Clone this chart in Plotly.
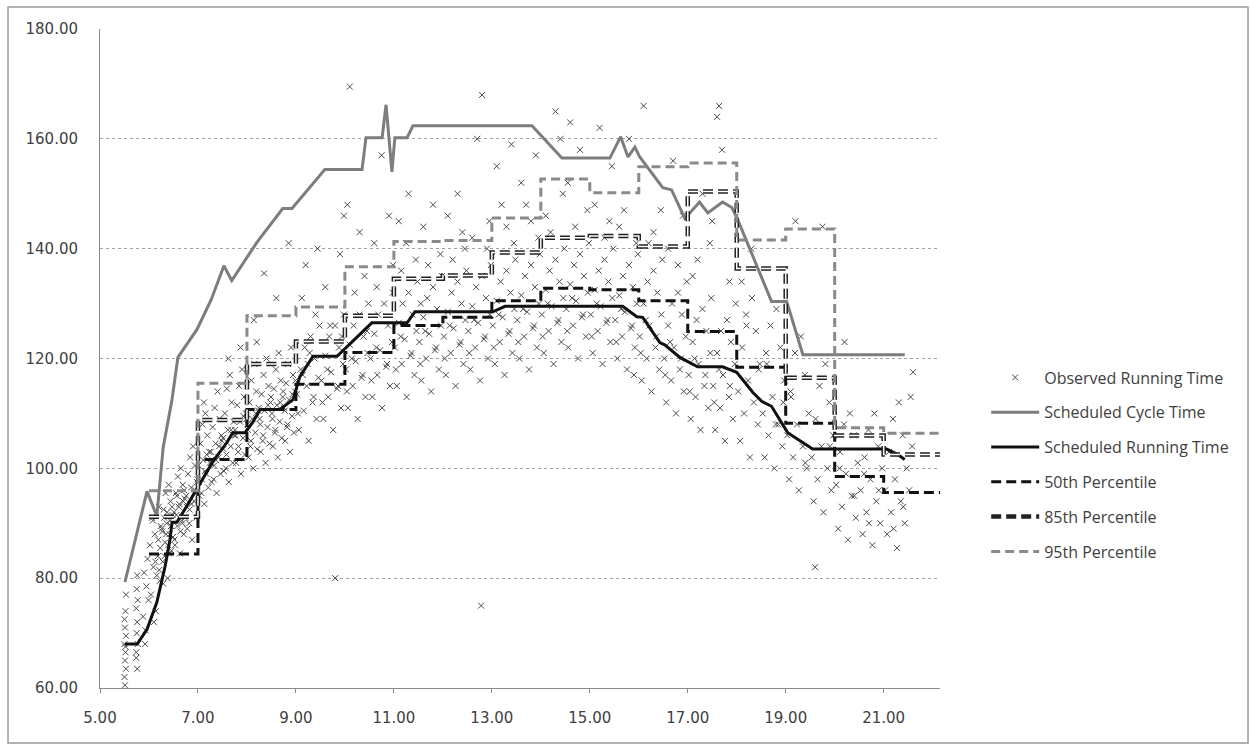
import plotly.graph_objects as go

# ---------------- data ----------------
# Scheduled cycle time (hours, minutes)
cycle_time = [5.51, 5.96, 6.16, 6.29, 6.47, 6.59, 6.98, 7.27, 7.53, 7.69, 8.20, 8.73, 8.92,
              9.59, 10.35, 10.43, 10.76, 10.84, 10.96, 11.02, 11.27, 11.39, 13.82, 14.43,
              15.41, 15.63, 15.78, 15.92, 16.02, 16.49, 16.67, 16.94, 17.24, 17.41, 17.71,
              17.90, 18.02, 18.71, 19.02, 19.35, 21.43]
cycle_min = [79.3, 95.8, 91.3, 103.8, 112.5, 120.2, 125.3, 130.7, 136.9, 134.2, 141.1, 147.3, 147.3,
             154.4, 154.4, 160.2, 160.2, 166.2, 154.0, 160.2, 160.2, 162.4, 162.4, 156.5,
             156.5, 160.4, 156.7, 158.5, 156.7, 151.1, 150.7, 145.5, 148.5, 146.5, 148.5,
             147.5, 145.3, 130.4, 130.4, 120.7, 120.7]

# Scheduled running time
run_time = [5.51, 5.76, 5.96, 6.16, 6.33, 6.43, 6.47, 6.57, 6.73, 6.98, 7.31, 7.59, 7.71, 7.96,
            8.12, 8.27, 8.67, 8.94, 9.08, 9.35, 9.84, 10.55, 11.27, 11.43, 13.02, 13.27,
            15.67, 15.96, 16.08, 16.43, 16.53, 16.84, 17.20, 17.71, 18.00, 18.33, 18.51,
            18.71, 19.04, 19.55, 21.06, 21.29, 21.43]
run_min = [68.0, 68.0, 70.7, 75.6, 82.2, 87.1, 90.2, 90.2, 92.5, 96.2, 101.3, 104.7, 106.5, 106.5,
           108.4, 110.7, 110.7, 112.5, 116.7, 120.4, 120.4, 126.5, 126.5, 128.5, 128.5, 129.5,
           129.5, 127.6, 127.5, 122.9, 122.5, 120.2, 118.5, 118.5, 117.5, 113.8, 112.2,
           111.3, 106.5, 103.5, 103.5, 102.5, 101.6]

# Hourly percentile steps (bin start hours, last value = end of last bin)
pct_hours = [6, 7, 8, 9, 10, 11, 12, 13, 14, 15, 16, 17, 18, 19, 20, 21, 22.15]
p50 = [84.4, 101.6, 110.7, 115.3, 121.1, 126.0, 127.5, 130.5, 132.8, 132.5, 130.5, 124.9,
       118.4, 108.2, 98.5, 95.6]
p85 = [91.2, 108.8, 119.0, 123.1, 127.8, 134.5, 135.1, 139.3, 142.0, 142.3, 140.4, 150.4,
       136.4, 116.5, 106.0, 102.5]
p95 = [95.9, 115.5, 127.8, 129.4, 136.7, 141.3, 141.5, 145.6, 152.7, 150.2, 154.9, 155.6,
       141.6, 143.6, 107.4, 106.4]

# Observed running times (hour, minutes) – estimated from the scatter
observed = [
    (5.50, 62.0), (5.53, 63.5), (5.51, 65.0), (5.52, 66.5), (5.50, 68.0), (5.53, 69.5),
    (5.51, 71.0), (5.50, 72.5), (5.52, 74.0), (5.53, 77.0), (5.51, 60.5), (5.52, 67.5),
    (5.76, 63.5), (5.74, 65.5), (5.77, 68.0), (5.75, 70.0), (5.76, 72.0), (5.74, 74.5),
    (5.77, 76.0), (5.75, 78.0), (5.76, 80.5), (5.74, 66.5),
    (5.93, 70.5), (5.88, 73.0), (5.99, 76.0), (5.95, 78.5), (5.90, 81.0), (5.97, 83.5), (5.92, 68.0),
    (6.14, 74.0), (6.04, 77.0), (6.22, 79.5), (6.09, 82.0), (6.18, 84.0), (6.02, 86.0),
    (6.12, 88.0), (6.24, 89.5), (6.06, 91.0), (6.20, 93.0), (6.10, 72.0), (6.16, 80.5),
    (6.23, 85.5), (6.08, 90.5), (6.19, 87.0), (6.13, 83.0), (6.21, 81.5),
    (6.38, 80.0), (6.28, 83.0), (6.46, 85.0), (6.33, 86.5), (6.42, 88.0), (6.26, 89.0),
    (6.36, 90.0), (6.48, 91.5), (6.30, 92.5), (6.44, 94.0), (6.34, 95.5), (6.40, 97.0),
    (6.49, 87.5), (6.32, 84.0), (6.27, 88.5), (6.43, 90.5), (6.37, 92.0), (6.47, 93.0), (6.29, 79.0),
    (6.39, 86.0), (6.45, 89.5), (6.31, 91.0), (6.41, 84.5), (6.35, 88.0),
    (6.63, 84.5), (6.53, 86.0), (6.71, 88.0), (6.58, 89.5), (6.67, 90.5), (6.51, 92.0),
    (6.61, 93.0), (6.73, 94.5), (6.55, 95.5), (6.69, 97.0), (6.59, 98.5), (6.65, 100.0),
    (6.74, 91.0), (6.57, 95.0), (6.52, 87.0), (6.68, 90.0), (6.62, 93.5), (6.72, 96.0),
    (6.56, 91.5), (6.64, 88.5), (6.70, 94.0),
    (6.88, 87.0), (6.78, 89.0), (6.96, 91.0), (6.83, 92.5), (6.92, 94.0), (6.76, 95.0),
    (6.86, 96.5), (6.98, 97.5), (6.80, 99.0), (6.94, 100.5), (6.84, 102.0), (6.90, 104.0),
    (6.99, 98.0), (6.82, 90.0), (6.77, 93.0), (6.93, 95.5), (6.87, 93.5), (6.95, 96.0),
    (7.13, 93.5), (7.03, 95.0), (7.21, 96.5), (7.08, 98.0), (7.17, 99.0), (7.01, 100.5),
    (7.11, 101.5), (7.23, 103.0), (7.05, 104.5), (7.19, 106.0), (7.09, 108.0), (7.15, 110.0),
    (7.24, 101.0), (7.07, 95.5), (7.02, 97.5), (7.18, 102.5), (7.12, 112.0), (7.14, 99.5),
    (7.38, 95.5), (7.28, 97.5), (7.46, 99.0), (7.33, 100.5), (7.42, 102.0), (7.26, 103.0),
    (7.36, 104.5), (7.48, 106.0), (7.30, 107.5), (7.44, 109.0), (7.34, 111.0), (7.40, 114.0),
    (7.49, 105.0), (7.32, 98.0), (7.27, 101.0), (7.43, 104.0), (7.37, 101.5),
    (7.63, 97.5), (7.53, 99.5), (7.71, 101.0), (7.58, 102.5), (7.67, 104.0), (7.51, 105.5),
    (7.61, 107.0), (7.73, 108.5), (7.55, 110.0), (7.69, 112.0), (7.59, 114.5), (7.65, 117.0),
    (7.74, 106.0), (7.57, 100.0), (7.52, 103.5), (7.68, 107.0), (7.62, 120.0),
    (7.88, 99.0), (7.78, 101.0), (7.96, 102.5), (7.83, 104.0), (7.92, 105.5), (7.76, 107.0),
    (7.86, 108.5), (7.98, 110.0), (7.80, 111.5), (7.94, 113.0), (7.84, 115.0), (7.90, 118.0),
    (7.99, 109.0), (7.82, 103.0), (7.77, 106.0), (7.93, 109.5), (7.87, 122.0),
    (8.13, 100.0), (8.03, 102.0), (8.21, 103.5), (8.08, 105.0), (8.17, 106.5), (8.01, 108.0),
    (8.11, 109.0), (8.23, 110.5), (8.05, 112.0), (8.19, 114.0), (8.09, 116.0), (8.15, 119.0),
    (8.24, 111.0), (8.07, 104.0), (8.02, 107.0), (8.18, 110.0), (8.14, 127.0), (8.20, 123.0),
    (8.38, 101.0), (8.28, 103.0), (8.46, 104.5), (8.33, 106.0), (8.42, 107.5), (8.26, 109.0),
    (8.36, 110.5), (8.48, 112.0), (8.30, 113.5), (8.44, 115.0), (8.34, 117.0), (8.40, 120.0),
    (8.49, 113.0), (8.32, 105.0), (8.27, 108.0), (8.43, 111.5), (8.35, 135.5),
    (8.63, 102.0), (8.53, 104.0), (8.71, 105.5), (8.58, 107.0), (8.67, 108.5), (8.51, 110.0),
    (8.61, 111.5), (8.73, 113.0), (8.55, 114.5), (8.69, 116.0), (8.59, 118.0), (8.65, 121.0),
    (8.74, 114.0), (8.57, 106.5), (8.52, 109.0), (8.68, 112.0), (8.60, 131.0),
    (8.88, 103.0), (8.78, 105.0), (8.96, 106.5), (8.83, 108.0), (8.92, 109.5), (8.76, 111.0),
    (8.86, 112.5), (8.98, 114.0), (8.80, 115.5), (8.94, 117.0), (8.84, 119.0), (8.90, 122.0),
    (8.99, 116.0), (8.82, 107.5), (8.77, 110.5), (8.93, 113.5), (8.85, 141.0),
    (9.26, 105.0), (9.06, 107.0), (9.42, 109.0), (9.16, 110.5), (9.34, 112.0), (9.02, 113.5),
    (9.22, 115.0), (9.46, 116.5), (9.10, 118.0), (9.38, 120.0), (9.18, 122.0), (9.30, 124.0),
    (9.48, 126.0), (9.14, 117.0), (9.04, 110.0), (9.36, 113.0), (9.24, 119.0), (9.40, 128.0),
    (9.12, 131.0), (9.44, 140.0), (9.20, 137.0), (9.28, 121.0),
    (9.76, 107.0), (9.56, 109.0), (9.92, 111.0), (9.66, 113.0), (9.84, 114.5), (9.52, 116.0),
    (9.72, 117.5), (9.96, 119.0), (9.60, 120.5), (9.88, 122.0), (9.68, 124.0), (9.80, 126.0),
    (9.98, 128.0), (9.64, 118.0), (9.54, 112.0), (9.86, 115.0), (9.80, 80.0), (9.90, 139.0),
    (9.98, 146.0), (9.60, 133.0), (9.70, 126.0), (9.94, 124.0),
    (10.26, 109.0), (10.06, 111.0), (10.42, 113.0), (10.16, 115.0), (10.34, 116.5), (10.02, 118.0),
    (10.22, 119.5), (10.46, 121.0), (10.10, 122.5), (10.38, 124.0), (10.18, 126.0), (10.30, 128.0),
    (10.48, 130.0), (10.14, 120.0), (10.04, 114.0), (10.36, 117.0), (10.10, 169.5), (10.05, 148.0),
    (10.30, 143.0), (10.40, 135.0), (10.20, 132.0), (10.45, 125.0),
    (10.76, 111.0), (10.56, 113.0), (10.92, 115.0), (10.66, 117.0), (10.84, 118.5), (10.52, 120.0),
    (10.72, 121.5), (10.96, 123.0), (10.60, 124.5), (10.88, 126.0), (10.68, 128.0), (10.80, 130.0),
    (10.98, 132.0), (10.64, 122.0), (10.54, 116.0), (10.86, 119.0), (10.90, 146.0), (10.60, 141.0),
    (10.75, 157.0), (10.98, 137.0), (10.65, 133.0),
    (11.26, 113.0), (11.06, 115.0), (11.42, 117.0), (11.16, 119.0), (11.34, 120.5), (11.02, 122.0),
    (11.22, 123.5), (11.46, 125.0), (11.10, 126.5), (11.38, 128.0), (11.18, 130.0), (11.30, 132.0),
    (11.48, 134.0), (11.14, 124.0), (11.04, 118.0), (11.36, 121.0), (11.10, 145.0), (11.30, 150.0),
    (11.45, 138.0), (11.15, 136.0), (11.25, 141.0),
    (11.76, 114.0), (11.56, 116.0), (11.92, 118.0), (11.66, 120.0), (11.84, 121.5), (11.52, 123.0),
    (11.72, 124.5), (11.96, 126.0), (11.60, 127.5), (11.88, 129.0), (11.68, 131.0), (11.80, 133.0),
    (11.98, 135.0), (11.64, 125.0), (11.54, 119.0), (11.86, 122.0), (11.60, 144.0), (11.80, 148.0),
    (11.95, 139.0), (11.70, 137.0), (11.55, 130.0),
    (12.26, 115.0), (12.06, 117.0), (12.42, 119.0), (12.16, 121.0), (12.34, 122.5), (12.02, 124.0),
    (12.22, 125.5), (12.46, 127.0), (12.10, 128.5), (12.38, 130.0), (12.18, 132.0), (12.30, 134.0),
    (12.48, 136.0), (12.14, 126.0), (12.04, 120.0), (12.36, 123.0), (12.10, 146.0), (12.30, 150.0),
    (12.45, 140.0), (12.20, 138.0), (12.40, 143.0),
    (12.76, 116.0), (12.56, 118.0), (12.92, 120.0), (12.66, 122.0), (12.84, 123.5), (12.52, 125.0),
    (12.72, 126.5), (12.96, 128.0), (12.60, 129.5), (12.88, 131.0), (12.68, 133.0), (12.80, 135.0),
    (12.98, 137.0), (12.64, 127.0), (12.54, 121.0), (12.86, 124.0), (12.80, 168.0), (12.70, 160.0),
    (12.78, 75.0), (12.60, 142.0), (12.95, 145.0), (12.90, 140.0),
    (13.26, 117.0), (13.06, 119.0), (13.42, 121.0), (13.16, 123.0), (13.34, 124.5), (13.02, 126.0),
    (13.22, 127.5), (13.46, 129.0), (13.10, 130.5), (13.38, 132.0), (13.18, 134.0), (13.30, 136.0),
    (13.48, 138.0), (13.14, 128.0), (13.04, 122.0), (13.36, 125.0), (13.10, 155.0), (13.30, 144.0),
    (13.45, 141.0), (13.20, 148.0), (13.40, 159.0),
    (13.76, 118.0), (13.56, 120.0), (13.92, 122.0), (13.66, 124.0), (13.84, 125.5), (13.52, 127.0),
    (13.72, 128.5), (13.96, 130.0), (13.60, 131.5), (13.88, 133.0), (13.68, 135.0), (13.80, 137.0),
    (13.98, 139.0), (13.64, 129.0), (13.54, 123.0), (13.86, 126.0), (13.60, 152.0), (13.80, 145.0),
    (13.95, 142.0), (13.70, 148.0), (13.90, 157.0),
    (14.26, 119.0), (14.06, 121.0), (14.42, 123.0), (14.16, 125.0), (14.34, 126.5), (14.02, 128.0),
    (14.22, 129.5), (14.46, 131.0), (14.10, 132.5), (14.38, 134.0), (14.18, 136.0), (14.30, 138.0),
    (14.48, 140.0), (14.14, 130.0), (14.04, 124.0), (14.36, 127.0), (14.30, 165.0), (14.10, 146.0),
    (14.45, 150.0), (14.20, 143.0), (14.40, 160.0),
    (14.76, 120.0), (14.56, 122.0), (14.92, 124.0), (14.66, 126.0), (14.84, 127.5), (14.52, 129.0),
    (14.72, 130.5), (14.96, 132.0), (14.60, 133.5), (14.88, 135.0), (14.68, 137.0), (14.80, 139.0),
    (14.98, 141.0), (14.64, 131.0), (14.54, 125.0), (14.86, 128.0), (14.60, 163.0), (14.80, 158.0),
    (14.95, 147.0), (14.70, 144.0), (14.55, 152.0),
    (15.26, 119.0), (15.06, 121.0), (15.42, 123.0), (15.16, 125.0), (15.34, 126.5), (15.02, 128.0),
    (15.22, 129.5), (15.46, 131.0), (15.10, 132.5), (15.38, 134.0), (15.18, 136.0), (15.30, 138.0),
    (15.48, 140.0), (15.14, 130.0), (15.04, 124.0), (15.36, 127.0), (15.20, 162.0), (15.40, 145.0),
    (15.10, 148.0), (15.30, 142.0), (15.45, 155.0),
    (15.76, 118.0), (15.56, 120.0), (15.92, 122.0), (15.66, 124.0), (15.84, 125.5), (15.52, 127.0),
    (15.72, 128.5), (15.96, 130.0), (15.60, 131.5), (15.88, 133.0), (15.68, 135.0), (15.80, 137.0),
    (15.98, 139.0), (15.64, 129.0), (15.54, 123.0), (15.86, 126.0), (15.80, 160.0), (15.60, 144.0),
    (15.90, 117.0), (15.70, 147.0), (15.95, 141.0),
    (16.26, 114.0), (16.06, 116.0), (16.42, 118.0), (16.16, 120.0), (16.34, 122.0), (16.02, 124.0),
    (16.22, 126.0), (16.46, 128.0), (16.10, 130.0), (16.38, 132.0), (16.18, 134.0), (16.30, 136.0),
    (16.48, 138.0), (16.14, 127.0), (16.04, 121.0), (16.36, 124.0), (16.10, 166.0), (16.30, 143.0),
    (16.45, 147.0), (16.20, 141.0),
    (16.76, 110.0), (16.56, 112.0), (16.92, 114.0), (16.66, 116.0), (16.84, 118.0), (16.52, 120.0),
    (16.72, 122.0), (16.96, 124.0), (16.60, 126.0), (16.88, 128.0), (16.68, 130.0), (16.80, 132.0),
    (16.98, 134.0), (16.64, 123.0), (16.54, 117.0), (16.86, 120.0), (16.70, 156.0), (16.90, 146.0),
    (16.60, 140.0), (16.80, 137.0),
    (17.26, 107.0), (17.06, 109.0), (17.42, 111.0), (17.16, 113.0), (17.34, 115.0), (17.02, 117.0),
    (17.22, 119.0), (17.46, 121.0), (17.10, 123.0), (17.38, 125.0), (17.18, 127.0), (17.30, 129.0),
    (17.48, 131.0), (17.14, 120.0), (17.04, 114.0), (17.36, 117.0), (17.30, 150.0), (17.10, 135.0),
    (17.45, 141.0), (17.20, 138.0),
    (17.76, 105.0), (17.56, 107.0), (17.92, 109.0), (17.66, 111.0), (17.84, 113.0), (17.52, 115.0),
    (17.72, 117.0), (17.96, 119.0), (17.60, 121.0), (17.88, 123.0), (17.68, 125.0), (17.80, 127.0),
    (17.98, 130.0), (17.64, 118.0), (17.54, 112.0), (17.86, 115.0), (17.60, 164.0), (17.64, 166.0),
    (17.70, 158.0), (17.85, 134.0), (17.50, 145.0),
    (18.27, 102.0), (18.07, 105.0), (18.43, 108.0), (18.15, 110.0), (18.35, 112.0), (18.03, 114.0),
    (18.23, 116.0), (18.47, 119.0), (18.11, 122.0), (18.39, 125.0), (18.19, 128.0), (18.31, 131.0),
    (18.10, 134.0), (18.30, 140.0), (18.45, 118.0), (18.20, 126.0),
    (18.77, 100.0), (18.57, 102.0), (18.93, 104.0), (18.65, 106.0), (18.85, 108.0), (18.53, 110.0),
    (18.73, 113.0), (18.97, 116.0), (18.61, 119.0), (18.89, 122.0), (18.69, 126.0), (18.81, 129.0),
    (18.60, 121.0), (18.80, 108.0), (18.95, 112.0),
    (19.27, 96.0), (19.07, 98.0), (19.43, 100.0), (19.15, 102.0), (19.35, 104.0), (19.03, 106.0),
    (19.23, 108.0), (19.47, 110.0), (19.11, 113.0), (19.39, 117.0), (19.19, 121.0), (19.31, 124.0),
    (19.20, 145.0), (19.40, 101.0), (19.10, 114.0),
    (19.77, 92.0), (19.57, 94.0), (19.93, 96.0), (19.65, 98.0), (19.85, 100.0), (19.53, 102.0),
    (19.73, 104.0), (19.97, 106.0), (19.61, 109.0), (19.89, 112.0), (19.69, 115.0), (19.81, 119.0),
    (19.75, 144.0), (19.60, 82.0), (19.90, 104.0),
    (20.27, 87.0), (20.07, 89.0), (20.43, 91.0), (20.15, 93.0), (20.35, 95.0), (20.03, 97.0),
    (20.23, 99.0), (20.47, 101.0), (20.11, 103.0), (20.39, 106.0), (20.19, 108.0), (20.31, 110.0),
    (20.20, 123.0), (20.40, 95.0), (20.10, 100.0),
    (20.77, 86.0), (20.57, 88.0), (20.93, 90.0), (20.65, 92.0), (20.85, 94.0), (20.53, 96.0),
    (20.73, 98.0), (20.97, 100.0), (20.61, 102.0), (20.89, 104.0), (20.69, 107.0), (20.81, 110.0),
    (20.70, 90.0), (20.90, 96.0), (20.60, 99.0),
    (21.27, 85.5), (21.07, 88.0), (21.43, 90.0), (21.15, 92.0), (21.35, 94.0), (21.03, 96.0),
    (21.23, 98.0), (21.47, 100.0), (21.11, 103.0), (21.39, 106.0), (21.19, 109.0), (21.31, 112.0),
    (21.20, 89.0), (21.40, 93.0),
    (21.55, 113.0), (21.60, 117.5), (21.52, 96.0), (21.58, 104.0),
]

x_ticks = [5, 7, 9, 11, 13, 15, 17, 19, 21]
y_ticks = [60, 80, 100, 120, 140, 160, 180]

# ---------------- figure ----------------
obs_x = [p[0] for p in observed]
obs_y = [p[1] for p in observed]

def step_y(vals):
    return vals + [vals[-1]]

fig = go.Figure()

fig.add_trace(go.Scatter(
    x=obs_x, y=obs_y, mode="markers", name="Observed Running Time",
    legendgroup="obs",
    marker=dict(symbol="x-thin", size=6, line=dict(width=1, color="#4a4a4a"), color="#4a4a4a"),
))
fig.add_trace(go.Scatter(
    x=cycle_time, y=cycle_min, mode="lines", name="Scheduled Cycle Time",
    legendgroup="cyc", line=dict(color="#7d7d7d", width=3),
))
fig.add_trace(go.Scatter(
    x=run_time, y=run_min, mode="lines", name="Scheduled Running Time",
    legendgroup="run", line=dict(color="#111111", width=3),
))
fig.add_trace(go.Scatter(
    x=pct_hours, y=step_y(p50), mode="lines", name="50th Percentile", line_shape="hv",
    legendgroup="p50", line=dict(color="#111111", width=3, dash="10px,5px"),
))
fig.add_trace(go.Scatter(
    x=pct_hours, y=step_y(p85), mode="lines", name="85th Percentile", line_shape="hv",
    legendgroup="p85", line=dict(color="#222222", width=4.5, dash="10px,5px"),
))
fig.add_trace(go.Scatter(
    x=pct_hours, y=step_y(p85), mode="lines", name="85th Percentile", line_shape="hv",
    legendgroup="p85", showlegend=False, hoverinfo="skip",
    line=dict(color="#ffffff", width=1.5, dash="10px,5px"),
))
fig.add_trace(go.Scatter(
    x=pct_hours, y=step_y(p95), mode="lines", name="95th Percentile", line_shape="hv",
    legendgroup="p95", line=dict(color="#8a8a8a", width=3, dash="9px,5px"),
))

fig.update_layout(
    width=1251, height=746,
    margin=dict(l=100, r=311, t=29, b=58),
    paper_bgcolor="white", plot_bgcolor="white",
    font=dict(family="DejaVu Sans", size=15, color="#404040"),
    showlegend=True,
    legend=dict(
        x=1.055, y=0.497, xanchor="left", yanchor="top",
        font=dict(family="Open Sans", size=16, color="#404040"),
        tracegroupgap=11, itemwidth=48, bgcolor="rgba(0,0,0,0)",
    ),
    shapes=[dict(type="rect", xref="paper", yref="paper",
                 x0=-0.1095, x1=1.3667, y0=-0.0835, y1=1.0334,
                 line=dict(color="#9a9a9a", width=1.5))],
)
fig.update_xaxes(
    range=[5, 22.15], tickvals=x_ticks, tickformat=".2f",
    showgrid=False, zeroline=False,
    showline=True, linecolor="#8a8a8a", linewidth=1,
    ticks="outside", ticklen=4, tickcolor="#8a8a8a",
    ticklabelstandoff=12, tickfont=dict(family="DejaVu Sans", size=15),
)
fig.update_yaxes(
    range=[60, 180], tickvals=y_ticks, tickformat=".2f",
    showgrid=True, gridcolor="#a0a0a0", gridwidth=1, griddash="dot",
    zeroline=False, showline=True, linecolor="#8a8a8a", linewidth=1,
    ticks="", ticklabelstandoff=18, tickfont=dict(family="DejaVu Sans", size=15),
)

fig.write_html("out.html")
